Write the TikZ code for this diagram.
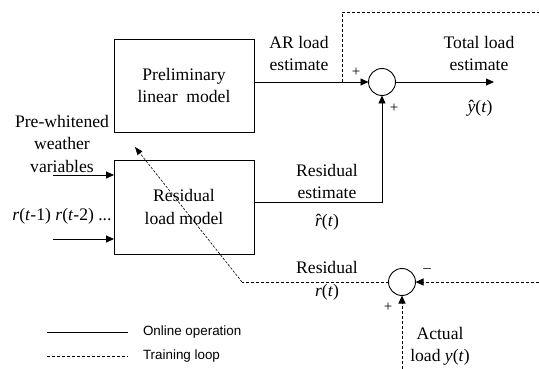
\documentclass[tikz,border=0pt]{standalone}
\usepackage{fontspec}
\setmainfont{Liberation Serif}
\newfontfamily\legendfont{Liberation Sans}
\usetikzlibrary{arrows.meta}

% italic letter with a circumflex laid over it
\newcommand\hatted[1]{\ooalign{\textit{#1}\cr\hidewidth\char"02C6\hidewidth\cr}}

\begin{document}
\begin{tikzpicture}[x=1pt,y=-1pt,
  every node/.style={inner sep=0pt, outer sep=0pt},
  lbl/.style={font=\fontsize{17.6}{22.5}\selectfont, align=center},
  sign/.style={font=\fontsize{15}{15}\selectfont},
  legendtext/.style={font=\legendfont\fontsize{13.4}{16}\selectfont, anchor=west},
  blk/.style={draw, line width=0.9pt, minimum width=140pt, lbl},
  sumj/.style={draw, circle, line width=0.9pt, minimum size=27pt},
  online/.style={line width=0.9pt},
  train/.style={line width=0.9pt, dash pattern=on 3pt off 2pt},
  thintrain/.style={line width=0.6pt, dash pattern=on 2.5pt off 1.5pt},
  tip/.style={-{Triangle[length=8pt,width=7pt]}},
]
\useasboundingbox (0,0) rectangle (539,369);

% blocks
\node[blk, minimum height=93pt] (b1) at (184,85.5) {Preliminary\\linear\ \ model};
\node[blk, minimum height=94pt] (b2) at (184,207) {Residual\\load model};

% summing junctions
\node[sumj] (s1) at (382,82) {};
\node[sumj] (s2) at (402,282) {};

% free ends and bends
\coordinate (tap)  at (342,82);
\coordinate (topR) at (539,12);
\coordinate (yout) at (494,82);
\coordinate (rj)   at (382,202);
\coordinate (inR)  at (539,282);
\coordinate (inB)  at (402,369);
\coordinate (bend) at (242,282);
\coordinate (tipP) at (135,147);
\coordinate (w0)   at (53,175);
\coordinate (r0)   at (53,239);
\coordinate (l1a)  at (47,332);
\coordinate (l1b)  at (128,332);
\coordinate (l2a)  at (47,356);
\coordinate (l2b)  at (128,356);

% online signal paths
\draw[online,tip] (b1.east |- s1) -- (s1.west);
\draw[online,tip] (s1.east) -- (yout);
\draw[online,tip] (b2.east |- rj) -| (s1.south);
\draw[online,tip] (w0) -- (b2.west |- w0);
\draw[online,tip] (r0) -- (b2.west |- r0);

% training loop
\draw[train] (tap) |- (topR);
\draw[train,tip] (inR) -- (s2.east);
\draw[train,tip] (inB) -- (s2.south);
\draw[train] (s2.west) -- (bend);
\draw[thintrain,-{Triangle[length=8pt,width=6pt]}] (bend) -- (tipP);

% labels
\node[lbl] (lar)  at (299,53.5) {AR load\\estimate};
\node[lbl] (ltot) at (479,53.5) {Total load\\estimate};
\node[lbl] (lyh)  at (480,108) {\hatted{y}(\textit{t})};
\node[lbl] (lres) at (327,181.5) {Residual\\estimate};
\node[lbl] (lrh)  at (327,222) {\hatted{r}(\textit{t})};
\node[lbl] (lrr)  at (327,281) {Residual\\\textit{r}(\textit{t})};
\node[lbl] (lact) at (440,346.5) {Actual\\load \textit{y}(\textit{t})};
\node[lbl] (lwea) at (62,143.5) {Pre-whitened\\weather\\variables};
\node[lbl] (lrin) at (62,216) {\textit{r}(\textit{t}-1) \textit{r}(\textit{t}-2) ...};

% signs at the junctions
\node[sign] (p1) at (356,72) {+};
\node[sign] (p2) at (394,108) {+};
\node[sign] (m1) at (427,272) {\raisebox{2pt}{--}};
\node[sign] (p3) at (388,307) {+};

% legend
\draw[online] (l1a) -- (l1b);
\node[legendtext] (t1) at (143,332) {Online operation};
\draw[train] (l2a) -- (l2b);
\node[legendtext] (t2) at (143,356) {Training loop};
\end{tikzpicture}
\end{document}
